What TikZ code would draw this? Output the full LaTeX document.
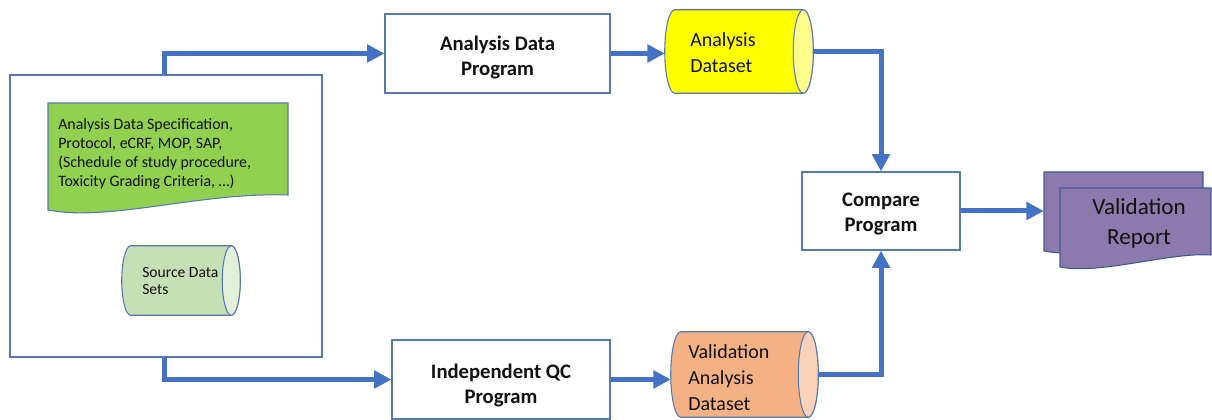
\documentclass[tikz,border=0pt]{standalone}
\usepackage{fontspec}
\setmainfont{Carlito}
\usetikzlibrary{arrows.meta,fit,calc}
\definecolor{arrowblue}{HTML}{4472C4}
\definecolor{edgeblue}{HTML}{5479B4}
\definecolor{docgreen}{HTML}{92D050}
\definecolor{srcbody}{HTML}{C5E0B4}
\definecolor{srcend}{HTML}{E2F0D9}
\definecolor{ylwbody}{HTML}{FFFF00}
\definecolor{ylwend}{HTML}{FFFF8C}
\definecolor{orgbody}{HTML}{F4B183}
\definecolor{orgend}{HTML}{F8D3BA}
\definecolor{purp}{HTML}{8B7AAB}
\definecolor{purpedge}{HTML}{3F5A94}
\definecolor{txt}{HTML}{111111}
\newcommand\drawcyl[4]{%
 \draw[draw=edgeblue,line width=0.8pt,fill=#3] let \p1=(#1.north east), \p2=(#1.south west) in
   (\x2+#2,\y1) -- (\x1-#2,\y1) arc[start angle=90,end angle=-90,x radius=#2,y radius={(\y1-\y2)/2}]
   -- (\x2+#2,\y2) arc[start angle=270,end angle=90,x radius=#2,y radius={(\y1-\y2)/2}] -- cycle;
 \draw[draw=edgeblue,line width=0.8pt,fill=#4] let \p1=(#1.north east), \p2=(#1.south west) in
   (\x1-#2,{(\y1+\y2)/2}) ellipse[x radius=#2,y radius={(\y1-\y2)/2}];}
\tikzset{
  box/.style={draw=edgeblue,line width=0.9pt,fill=white,inner sep=0pt},
  boxtext/.style={align=center,text=txt,font=\fontsize{15.5}{19}\selectfont\bfseries},
  holder/.style={inner sep=0pt},
  flow/.style={draw=arrowblue,line width=3.75pt,-{Triangle[length=13pt,width=13pt]}},
  cyltext/.style={anchor=west,align=left,text=txt,inner sep=0pt,font=\fontsize{15}{19.5}\selectfont},
}
\begin{document}
\begin{tikzpicture}[x=0.75pt,y=0.75pt]
\useasboundingbox (0,0) rectangle (1212,420);
% big container
\node[draw=edgeblue,line width=0.9pt,fill=white,inner sep=0pt,fit={(10,63)(322,345)}] (big) {};
% specification document
\node[holder,fit={(48,205)(288,317)}] (spec) {};
\draw[draw=edgeblue,line width=0.8pt,fill=docgreen] (48,317) -- (288,317) -- (288,225)
  .. controls (200,228) and (110,198) .. (48,210) -- cycle;
\node[anchor=west,align=left,text=txt,inner sep=0pt,font=\fontsize{11.9}{14.3}\selectfont] (spectxt) at (58,266)
  {Analysis Data Specification,\\Protocol, eCRF, MOP, SAP,\\(Schedule of study procedure,\\Toxicity Grading Criteria, …)};
% source data sets
\node[holder,fit={(122,105)(240,174)}] (src) {};
\drawcyl{src}{6.75pt}{srcbody}{srcend}
\node[cyltext,font=\fontsize{11.7}{13.5}\selectfont] (srctxt) at (142,139) {Source Data\\Sets};
% program boxes
\node[box,fit={(385,327)(610,406)}] (adp) {};
\node[boxtext,yshift=-3pt] (adptxt) at (adp.center) {Analysis Data\\Program};
\node[box,fit={(392,1)(610,80)}] (iqc) {};
\node[boxtext,yshift=-4.5pt] (iqctxt) at (iqc.center) {Independent QC\\Program};
\node[box,fit={(802,170)(960,248)}] (cmp) {};
\node[boxtext,yshift=-2pt] (cmptxt) at (cmp.center) {Compare\\Program};
% datasets
\node[holder,fit={(665,327)(813,410)}] (ad) {};
\drawcyl{ad}{7.5pt}{ylwbody}{ylwend}
\node[cyltext] (adtxt) at (690,367) {Analysis\\Dataset};
\node[holder,fit={(671,3)(818,88)}] (vad) {};
\drawcyl{vad}{7.5pt}{orgbody}{orgend}
\node[cyltext] (vadtxt) at (688,42) {Validation\\Analysis\\Dataset};
% validation report (multi-document)
\node[holder,fit={(1044,153)(1211,248)}] (rpt) {};
\draw[draw=purpedge,line width=0.8pt,fill=purp] (1044,248) -- (1203,248) -- (1203,180)
  .. controls (1160,183) and (1090,160) .. (1044,169) -- cycle;
\draw[draw=purpedge,line width=0.8pt,fill=purp] (1060,232) -- (1211,232) -- (1211,165)
  .. controls (1170,168) and (1100,145) .. (1060,153) -- cycle;
\node[align=center,text=txt,font=\fontsize{17.3}{22}\selectfont] (rpttxt) at (1139,196.5) {Validation\\Report};
% connectors
\draw[flow] ($(big.north west)+(155,0)$) |- (adp.west);
\draw[flow] ($(big.south west)+(155,0)$) |- (iqc.west);
\draw[flow] (adp.east) -- (adp.east -| ad.west);
\draw[flow] (ad.east) -| (cmp.north);
\draw[flow] (iqc.east) -- (iqc.east -| vad.west);
\draw[flow] (vad.east) -| (cmp.south);
\draw[flow] (cmp.east) -- (cmp.east -| rpt.west);
\end{tikzpicture}
\end{document}
